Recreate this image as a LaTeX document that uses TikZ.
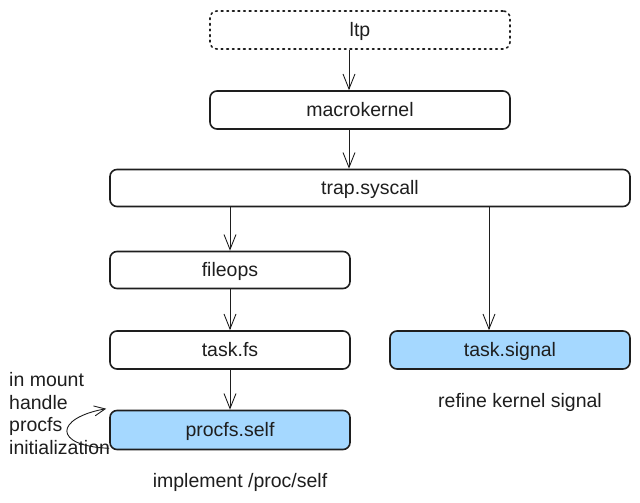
\documentclass[tikz,border=0pt]{standalone}
\usepackage{fontspec}
\setmainfont{Liberation Sans}
\usepackage{xcolor}
\usetikzlibrary{arrows.meta, positioning}
\definecolor{ink}{HTML}{1E1E1E}
\definecolor{boxblue}{HTML}{A5D8FF}
\tikzset{
	modbox/.style={draw=ink, line width=1.6pt, rounded corners=7pt, minimum height=38pt, text=ink, text depth=1pt, font=\fontsize{19.5}{23}\selectfont},
	call/.style={draw=ink, line width=0.9pt, -{Straight Barb[length=15pt,width=12pt]}},
	note/.style={text=ink, font=\fontsize{19.5}{22.7}\selectfont}
}
\begin{document}
\begin{tikzpicture}[x=1pt, y=-1pt]
				\useasboundingbox (0,0) rectangle (640,503);
				\node[modbox, dash pattern=on 1.8pt off 3.8pt, line cap=round, minimum width=300pt] (ltp) at (360,30) {ltp};
				\node[modbox, minimum width=300pt] (macrokernel) at (360,110) {macrokernel};
				\node[modbox, minimum width=520pt, minimum height=37pt] (trap) at (370,188) {trap.syscall};
				\node[modbox, minimum width=240pt, minimum height=37pt] (fileops) at (230,270) {fileops};
				\node[modbox, minimum width=240pt] (taskfs) at (230,350) {task.fs};
				\node[modbox, fill=boxblue, minimum width=240pt, minimum height=39pt] (procfs) at (230,430) {procfs.self};
				\node[modbox, fill=boxblue, minimum width=240pt] (signal) at (510,350) {task.signal};
				\draw[call] ([xshift=-11pt]ltp.south) -- ([xshift=-11pt]macrokernel.north);
				\draw[call] ([xshift=-11pt]macrokernel.south) -- ([xshift=-11pt]macrokernel.south |- trap.north);
				\draw[call] (trap.south -| fileops.north) -- (fileops.north);
				\draw[call] (fileops.south) -- (taskfs.north);
				\draw[call] (taskfs.south) -- (procfs.north);
				\draw[call] ([xshift=-21pt]signal.north |- trap.south) -- ([xshift=-21pt]signal.north);
				\node[note, anchor=north west, align=left, inner sep=0pt] (mountnote) at (9,372) {in mount\\handle\\procfs\\initialization};
				\draw[draw=ink, line width=0.9pt, -{Straight Barb[length=11pt,width=10pt]}] ([yshift=2pt]procfs.south west) .. controls (52,446) and (55,418) .. ([xshift=-3pt, yshift=1pt]procfs.north west);
				\node[note] (procnote) at (240,482) {implement /proc/self};
				\node[note] (signalnote) at (520,402) {refine kernel signal};
\end{tikzpicture}
\end{document}
